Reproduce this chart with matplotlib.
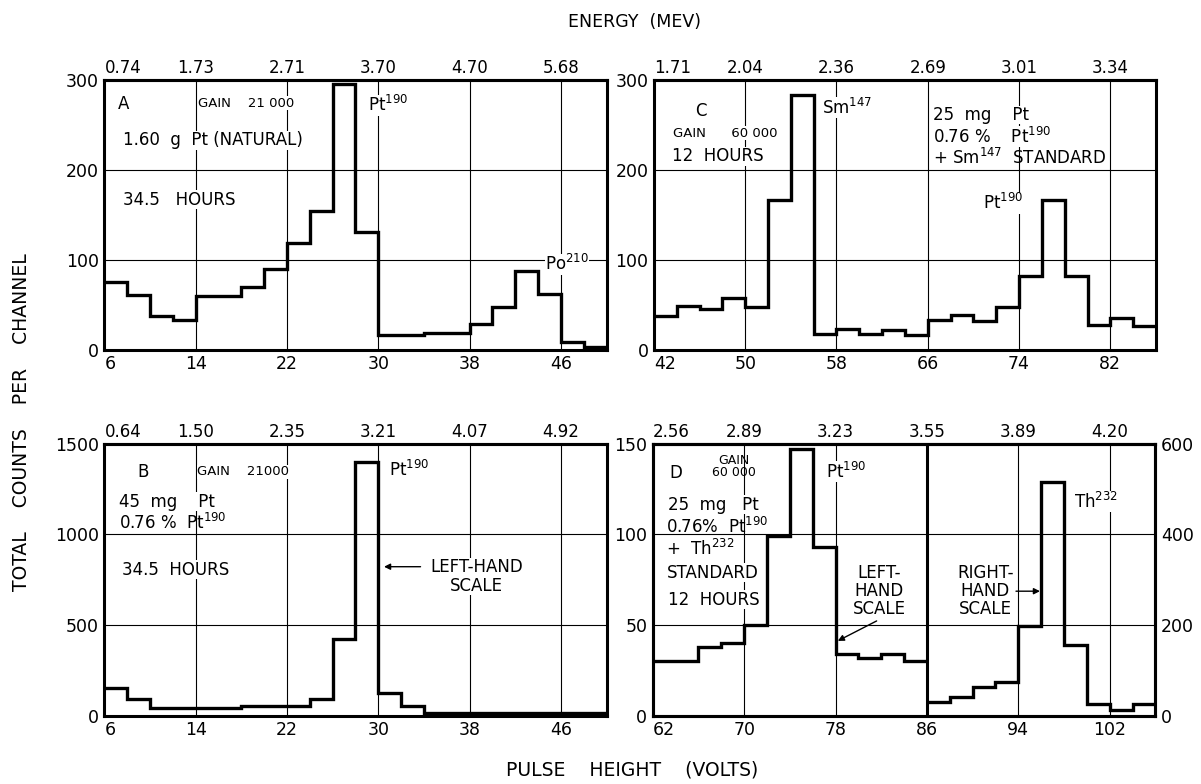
import numpy as np
import matplotlib.pyplot as plt

plt.rcParams['font.family'] = ['DejaVu Sans']

# A: 1.60 g natural Pt, gain 21 000, 34.5 h
a_edges = np.arange(6, 52, 2)
a_counts = [75, 61, 38, 33, 60, 60, 70, 90, 119, 154, 296, 131,
            16, 16, 18, 18, 28, 48, 88, 62, 8, 3]
a_volts = [6, 14, 22, 30, 38, 46]
a_energy = ['0.74', '1.73', '2.71', '3.70', '4.70', '5.68']

# B: 45 mg Pt (0.76 % Pt190), gain 21000, 34.5 h
b_edges = np.arange(6, 52, 2)
b_counts = [155, 90, 45, 45, 45, 45, 55, 55, 55, 95, 425, 1400,
            125, 55, 15, 15, 15, 15, 15, 15, 15, 15]
b_volts = [6, 14, 22, 30, 38, 46]
b_energy = ['0.64', '1.50', '2.35', '3.21', '4.07', '4.92']

# C: 25 mg Pt + Sm147 standard, gain 60 000, 12 h
c_edges = np.arange(42, 88, 2)
c_counts = [38, 49, 45, 57, 48, 167, 283, 17, 23, 17, 22, 16,
            33, 39, 32, 47, 82, 166, 82, 27, 35, 26]
c_volts = [42, 50, 58, 66, 74, 82]
c_energy = ['1.71', '2.04', '2.36', '2.69', '3.01', '3.34']

# D: 25 mg Pt + Th232 standard, gain 60 000, 12 h (left / right scale)
d_left_edges = np.arange(62, 88, 2)
d_left_counts = [30, 30, 38, 40, 50, 99, 147, 93, 34, 32, 34, 30]
d_right_edges = np.arange(86, 108, 2)
d_right_counts = [31, 41, 63, 75, 198, 515, 156, 25, 13, 25]
d_volts = [62, 70, 78, 86, 94, 102]
d_energy = ['2.56', '2.89', '3.23', '3.55', '3.89', '4.20']

fig = plt.figure(figsize=(12.01, 7.84), dpi=100)


def panel(rect, edges, counts, xlim, volts, energy, ymax, yticks):
    ax = fig.add_axes(rect)
    ax.stairs(counts, edges, baseline=None, color='black', lw=2.4, zorder=4)
    ax.set_xlim(*xlim)
    ax.set_ylim(0, ymax)
    ax.set_xticks(volts)
    ax.set_yticks(yticks)
    ax.grid(color='black', lw=0.8)
    ax.tick_params(length=0, labelsize=12.5, pad=4)
    for s in ax.spines.values():
        s.set_linewidth(2.2)
    top = ax.secondary_xaxis('top')
    top.set_xticks(volts, labels=energy)
    top.tick_params(length=0, labelsize=12, pad=2)
    top.spines['top'].set_linewidth(2.2)
    ax.get_xticklabels()[0].set_ha('left')
    top.get_xticklabels()[0].set_ha('left')
    return ax


box = dict(fc='white', ec='none', pad=0.3)
big = dict(fontsize=12, va='center', bbox=box)
plain = dict(fontsize=12, va='center')
small = dict(fontsize=9.5, va='center', bbox=box)
arrow = dict(arrowstyle='-|>', lw=1, color='black', mutation_scale=9,
             shrinkA=0, shrinkB=0)

# A
ax = panel([0.087, 0.554, 0.418, 0.344], a_edges, a_counts, (6, 50),
           a_volts, a_energy, 300, [0, 100, 200, 300])
ax.text(7.7, 273, 'A', ha='center', **big)
ax.text(14.2, 274, 'GAIN    21 000', **small)
ax.text(29.1, 272, 'Pt$^{190}$', **big)
ax.text(7.6, 233, '1.60  g  Pt (NATURAL)', **big)
ax.text(7.6, 167, '34.5   HOURS', **big)
ax.text(44.6, 95, 'Po$^{210}$', **big)

# C
ax = panel([0.5445, 0.554, 0.418, 0.344], c_edges, c_counts, (42, 86),
           c_volts, c_energy, 300, [0, 100, 200, 300])
ax.text(46.1, 266, 'C', ha='center', **big)
ax.text(43.7, 241, 'GAIN      60 000', **small)
ax.text(43.6, 215, '12  HOURS', **big)
ax.text(56.7, 269, 'Sm$^{147}$', **big)
ax.text(66.5, 261, '25  mg    Pt', **big)
ax.text(66.5, 237, '0.76 %    Pt$^{190}$', **big)
ax.text(66.5, 213, '+ Sm$^{147}$  STANDARD', **plain)
ax.text(70.8, 163, 'Pt$^{190}$', **big)

# B
ax = panel([0.087, 0.087, 0.418, 0.347], b_edges, b_counts, (6, 50),
           b_volts, b_energy, 1500, [0, 500, 1000, 1500])
ax.text(9.4, 1346, 'B', ha='center', **big)
ax.text(14.1, 1346, 'GAIN    21000', **small)
ax.text(7.3, 1180, '45  mg    Pt', **big)
ax.text(7.3, 1065, '0.76 %  Pt$^{190}$', **plain)
ax.text(7.5, 805, '34.5  HOURS', **big)
ax.text(30.9, 1357, 'Pt$^{190}$', **big)
ax.text(38.6, 767, 'LEFT-HAND\nSCALE', ha='center', linespacing=1.05, **big)
ax.annotate('', xy=(30.5, 822), xytext=(33.7, 822), arrowprops=arrow)

# D
ax = panel([0.5435, 0.087, 0.4185, 0.347], d_left_edges, d_left_counts,
           (62, 106), d_volts, d_energy, 150, [0, 50, 100, 150])
ax.axvline(86, color='black', lw=2.2, zorder=4)
ax2 = ax.twinx()
ax2.stairs(d_right_counts, d_right_edges, baseline=None, color='black',
           lw=2.4, zorder=4)
ax2.set_ylim(0, 600)
ax2.set_yticks([0, 200, 400, 600])
ax2.tick_params(length=0, labelsize=12.5, pad=4)
for s in ax2.spines.values():
    s.set_linewidth(2.2)

ax.text(64.0, 134, 'D', ha='center', **big)
ax.text(69.1, 140.5, 'GAIN', ha='center', fontsize=9, va='center')
ax.text(69.1, 134, '60 000', ha='center', fontsize=9, va='center')
ax.text(63.35, 116.5, '25  mg   Pt', **big)
ax.text(63.2, 104, '0.76%  Pt$^{190}$', **plain)
ax.text(63.2, 92, '+  Th$^{232}$', **big)
ax.text(63.25, 79, 'STANDARD', **big)
ax.text(63.35, 64, '12  HOURS', **big)
ax.text(77.2, 134.6, 'Pt$^{190}$', **big)
ax.text(81.85, 68.7, 'LEFT-\nHAND\nSCALE', ha='center', linespacing=1.0, **big)
ax.annotate('', xy=(78.2, 41.3), xytext=(81.6, 52.3), arrowprops=arrow)
ax.text(91.1, 68.7, 'RIGHT-\nHAND\nSCALE', ha='center', linespacing=1.0, **big)
ax.annotate('', xy=(95.9, 68.7), xytext=(93.8, 68.7), arrowprops=arrow)
ax.text(98.9, 118, 'Th$^{232}$', **big)

fig.text(635 / 1201, 1 - 22 / 784, 'ENERGY  (MEV)', ha='center', va='center',
         fontsize=12.5)
fig.text(632 / 1201, 1 - 770 / 784, 'PULSE    HEIGHT    (VOLTS)',
         ha='center', va='center', fontsize=13.5)
fig.text(22 / 1201, 1 - 422 / 784, 'TOTAL    COUNTS    PER    CHANNEL',
         rotation=90, ha='center', va='center', fontsize=13.5)

fig.savefig('out.png', dpi=100)
